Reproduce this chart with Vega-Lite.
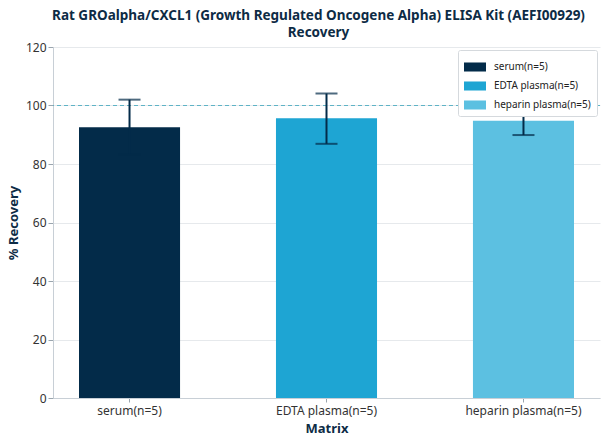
{
  "$schema": "https://vega.github.io/schema/vega-lite/v6.json",
  "width": 547,
  "height": 351,
  "autosize": {"type": "none"},
  "padding": {"left": 53, "top": 47, "right": 8, "bottom": 46},
  "background": "white",
  "title": {
    "text": ["Rat GROalpha/CXCL1 (Growth Regulated Oncogene Alpha) ELISA Kit (AEFI00929)", "Recovery"],
    "font": "Noto Sans",
    "fontSize": 13.5,
    "fontWeight": "bold",
    "color": "#0d2b45",
    "anchor": "middle",
    "dx": -8,
    "offset": 2,
    "lineHeight": 17
  },
  "config": {
    "font": "Noto Sans",
    "view": {"stroke": null},
    "axis": {
      "labelFont": "Noto Sans",
      "labelFontSize": 12,
      "labelColor": "#333333",
      "titleFont": "Noto Sans",
      "titleFontSize": 13,
      "titleFontWeight": "bold",
      "titleColor": "#0d2b45",
      "domainColor": "#c8cfd6",
      "tickColor": "#9aa5ae",
      "gridColor": "#e6e9ec"
    }
  },
  "data": {
    "values": [
      {"matrix": "serum(n=5)", "recovery": 92.6, "low": 83.2, "high": 102.0},
      {"matrix": "EDTA plasma(n=5)", "recovery": 95.6, "low": 86.9, "high": 104.1},
      {"matrix": "heparin plasma(n=5)", "recovery": 94.8, "low": 89.9, "high": 99.7}
    ]
  },
  "layer": [
    {
      "mark": {"type": "bar"},
      "encoding": {
        "x": {
          "field": "matrix",
          "type": "nominal",
          "sort": null,
          "title": "Matrix",
          "scale": {"paddingInner": 0.487, "paddingOuter": 0.132},
          "axis": {"labelAngle": 0, "tickSize": 4, "labelPadding": 3, "titlePadding": 6, "grid": false}
        },
        "y": {
          "field": "recovery",
          "type": "quantitative",
          "title": "% Recovery",
          "scale": {"domain": [0, 120]},
          "axis": {"values": [0, 20, 40, 60, 80, 100, 120], "tickSize": 5, "titlePadding": 5, "grid": true}
        },
        "color": {
          "field": "matrix",
          "type": "nominal",
          "sort": null,
          "scale": {
            "domain": ["serum(n=5)", "EDTA plasma(n=5)", "heparin plasma(n=5)"],
            "range": ["#032b49", "#1ea5d3", "#5cc0e1"]
          },
          "legend": {
            "title": null,
            "orient": "top-right",
            "offset": 3,
            "symbolType": "M-1,-0.41H1V0.41H-1Z",
            "symbolSize": 484,
            "symbolStrokeWidth": 0,
            "labelFont": "Noto Sans",
            "labelFontSize": 10,
            "labelColor": "#222222",
            "labelOffset": 8,
            "strokeColor": "#d5d9dd",
            "fillColor": "white",
            "padding": 6,
            "cornerRadius": 2,
            "rowPadding": 3
          }
        }
      }
    },
    {
      "mark": {"type": "rule", "color": "#5fb3c6", "strokeDash": [4, 3], "strokeWidth": 1},
      "encoding": {"y": {"datum": 100}}
    },
    {
      "mark": {"type": "rule", "color": "#032b49", "strokeWidth": 2},
      "encoding": {
        "x": {"field": "matrix", "type": "nominal", "sort": null},
        "y": {"field": "low", "type": "quantitative"},
        "y2": {"field": "high"}
      }
    },
    {
      "mark": {"type": "tick", "color": "#032b49", "size": 22, "thickness": 2},
      "encoding": {
        "x": {"field": "matrix", "type": "nominal", "sort": null},
        "y": {"field": "high", "type": "quantitative"}
      }
    },
    {
      "mark": {"type": "tick", "color": "#032b49", "size": 22, "thickness": 2},
      "encoding": {
        "x": {"field": "matrix", "type": "nominal", "sort": null},
        "y": {"field": "low", "type": "quantitative"}
      }
    }
  ]
}
